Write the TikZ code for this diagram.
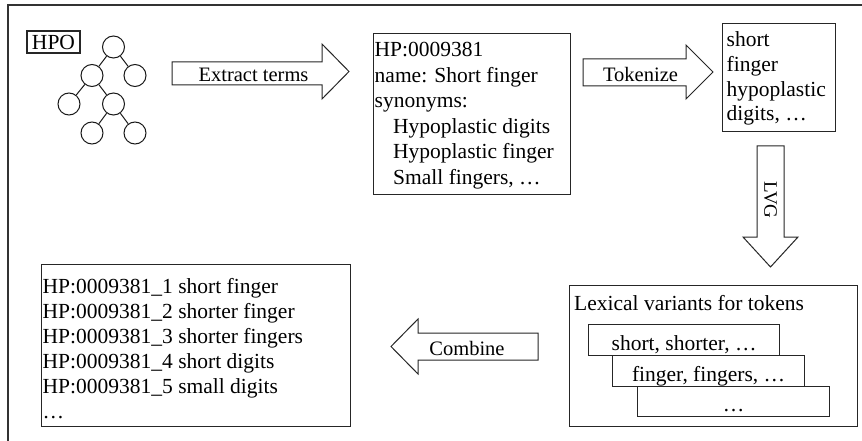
\documentclass[tikz,border=0pt]{standalone}
\usepackage{fontspec}
\setmainfont{Liberation Serif}
\usetikzlibrary{calc}
\tikzset{
  frameline/.style={draw=black!80, line width=1.3pt},
  panel/.style={draw=black!85, line width=1.2pt, fill=white, inner sep=0pt, anchor=north west},
  blockarrow/.style={draw=black!85, line width=1pt, fill=white, line join=miter},
  bodytext/.style={font=\fontsize{21.5}{25}\selectfont, inner sep=0pt, anchor=base west},
  midtext/.style={font=\fontsize{21.5}{25}\selectfont, inner sep=0pt, anchor=base},
  lbl/.style={font=\fontsize{20.5}{24}\selectfont, inner sep=0pt, anchor=base},
  treenode/.style={circle, draw=black!90, line width=1pt, minimum size=22pt, inner sep=0pt},
  treeedge/.style={draw=black!90, line width=1pt},
}
\begin{document}
\begin{tikzpicture}[x=1pt,y=-1pt]
\useasboundingbox (0,0) rectangle (862,441);

% partial outer frame
\draw[frameline] (862,5) -- (8,5) -- (8,441);

% ontology label and tree
\node[draw=black!85, line width=1.1pt, font=\fontsize{21.5}{25}\selectfont,
      inner sep=0pt, minimum width=53pt, minimum height=22pt] (hpo) at (53.5,42) {HPO};
\node[treenode] (t1) at (113.5,47) {};
\node[treenode] (t2) at (92,75.5) {};
\node[treenode] (t3) at (135,75.5) {};
\node[treenode] (t4) at (69,104) {};
\node[treenode] (t5) at (113.5,104) {};
\node[treenode] (t6) at (92,133) {};
\node[treenode] (t7) at (135,133) {};
\draw[treeedge] (t1) -- (t2);
\draw[treeedge] (t1) -- (t3);
\draw[treeedge] (t2) -- (t4);
\draw[treeedge] (t2) -- (t5);
\draw[treeedge] (t5) -- (t6);
\draw[treeedge] (t5) -- (t7);

% Extract terms arrow
\draw[blockarrow] (172,62) -- (322,62) -- (322,44) -- (349,71.5) -- (322,99) -- (322,85) -- (172,85) -- cycle;
\node[lbl] (extract) at (253.5,81.5) {Extract terms};

% term record
\node[panel, minimum width=197pt, minimum height=160.5pt] (term) at (373,33) {};
\node[bodytext] (l1) at (374.5,57) {HP:0009381};
\node[bodytext] (l2) at (374.5,82.5) {name: Short finger};
\node[bodytext] (l3) at (374.5,108) {synonyms:};
\node[bodytext] (l4) at (393,133.5) {Hypoplastic digits};
\node[bodytext] (l5) at (393,159) {Hypoplastic finger};
\node[bodytext] (l6) at (393,184.5) {Small fingers, …};

% Tokenize arrow
\draw[blockarrow] (583,59) -- (686,59) -- (686,45) -- (713,72) -- (686,99) -- (686,86) -- (583,86) -- cycle;
\node[lbl] (tokenize) at (640.5,81.5) {Tokenize};

% tokens
\node[panel, minimum width=113pt, minimum height=108pt] (tokens) at (722,23) {};
\node[bodytext] (k1) at (726.5,46.7) {short};
\node[bodytext] (k2) at (726.5,71.5) {finger};
\node[bodytext] (k3) at (726.5,96.3) {hypoplastic};
\node[bodytext] (k4) at (726.5,121) {digits, …};

% LVG arrow
\draw[blockarrow] (757,146) -- (784,146) -- (784,237) -- (798,237) -- (770.5,267) -- (743,237) -- (757,237) -- cycle;
\node[font=\fontsize{19}{22}\selectfont, inner sep=0pt, rotate=-90] (lvg) at (770.5,200) {LVG};

% lexical variants
\node[panel, minimum width=288pt, minimum height=141pt] (lex) at (569,285) {};
\node[bodytext] (lextitle) at (574,310) {Lexical variants for tokens};
\node[panel, minimum width=191pt, minimum height=31pt] (v1) at (588,324) {};
\node[midtext] (v1text) at ($(v1.south)+(0,-6)$) {short, shorter, …};
\node[panel, minimum width=192pt, minimum height=31pt] (v2) at (612,355) {};
\node[midtext] (v2text) at ($(v2.south)+(0,-6)$) {finger, fingers, …};
\node[panel, minimum width=192pt, minimum height=30pt] (v3) at (637,386) {};
\node[midtext] (v3text) at ($(v3.south)+(0,-6)$) {…};

% Combine arrow
\draw[blockarrow] (538,333) -- (418,333) -- (418,319) -- (391,346.5) -- (418,374) -- (418,360) -- (538,360) -- cycle;
\node[lbl] (combine) at (467,355) {Combine};

% combined variants
\node[panel, minimum width=309pt, minimum height=162pt] (out) at (41,264) {};
\node[bodytext] (o1) at (42.5,293) {HP:0009381\_1 short finger};
\node[bodytext] (o2) at (42.5,318) {HP:0009381\_2 shorter finger};
\node[bodytext] (o3) at (42.5,343) {HP:0009381\_3 shorter fingers};
\node[bodytext] (o4) at (42.5,368) {HP:0009381\_4 short digits};
\node[bodytext] (o5) at (42.5,393) {HP:0009381\_5 small digits};
\node[bodytext] (o6) at (42.5,418) {…};
\end{tikzpicture}
\end{document}
